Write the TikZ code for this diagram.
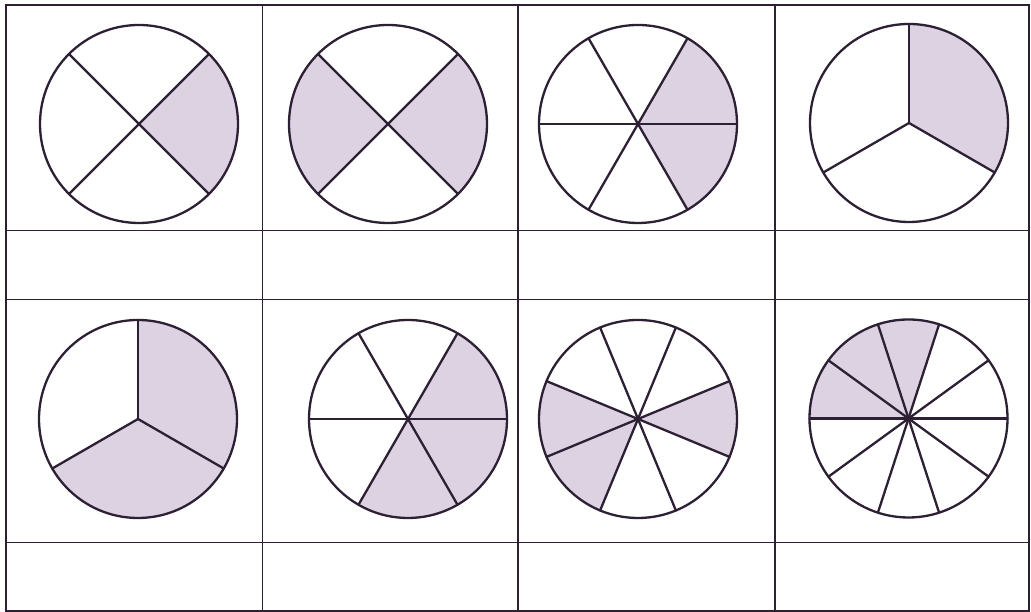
\documentclass[tikz,border=0pt]{standalone}
\definecolor{inkc}{RGB}{45,32,52}
\definecolor{shadec}{RGB}{220,210,226}
\newcommand\piechart[4]{%
  \foreach \a/\b in {#4} {\fill[part] (#1) -- ++(\a:99) arc[start angle=\a, end angle=\b, radius=99] -- cycle;}
  \foreach \k in {1,...,#2} {\draw[pieline] (#1) -- ++({#3+360/#2*\k}:99);}
  \draw[pieline] (#1) circle[radius=99];
}
\begin{document}
\begin{tikzpicture}[x=1pt,y=1pt,
  gridline/.style={line width=1.6pt, draw=inkc},
  pieline/.style={line width=2.3pt, draw=inkc, line cap=round},
  part/.style={fill=shadec}]
\useasboundingbox (0,0) rectangle (1031,612);
\fill[white] (0,0) rectangle (1031,612);
% grid
\draw[gridline] (6,1) rectangle (1029,607);
\draw[gridline] (262.5,1) -- (262.5,607);
\draw[gridline] (518,1) -- (518,607);
\draw[gridline] (775,1) -- (775,607);
\draw[gridline] (6,381.5) -- (1029,381.5);
\draw[gridline] (6,312.5) -- (1029,312.5);
\draw[gridline] (6,69.5) -- (1029,69.5);
% centres
\coordinate (c1) at (139,488);
\coordinate (c2) at (388,488);
\coordinate (c3) at (638,488);
\coordinate (c4) at (909,489);
\coordinate (c5) at (138,193);
\coordinate (c6) at (408,193);
\coordinate (c7) at (638,193);
\coordinate (c8) at (908.5,193.5);
\piechart{c1}{4}{45}{-45/45}
\piechart{c2}{4}{45}{-45/45,135/225}
\piechart{c3}{6}{0}{-60/60}
\piechart{c4}{3}{90}{-30/90}
\piechart{c5}{3}{90}{210/450}
\piechart{c6}{6}{0}{-120/60}
\piechart{c7}{8}{22.5}{-22.5/22.5,157.5/247.5}
\piechart{c8}{10}{0}{72/180}
\end{tikzpicture}
\end{document}
